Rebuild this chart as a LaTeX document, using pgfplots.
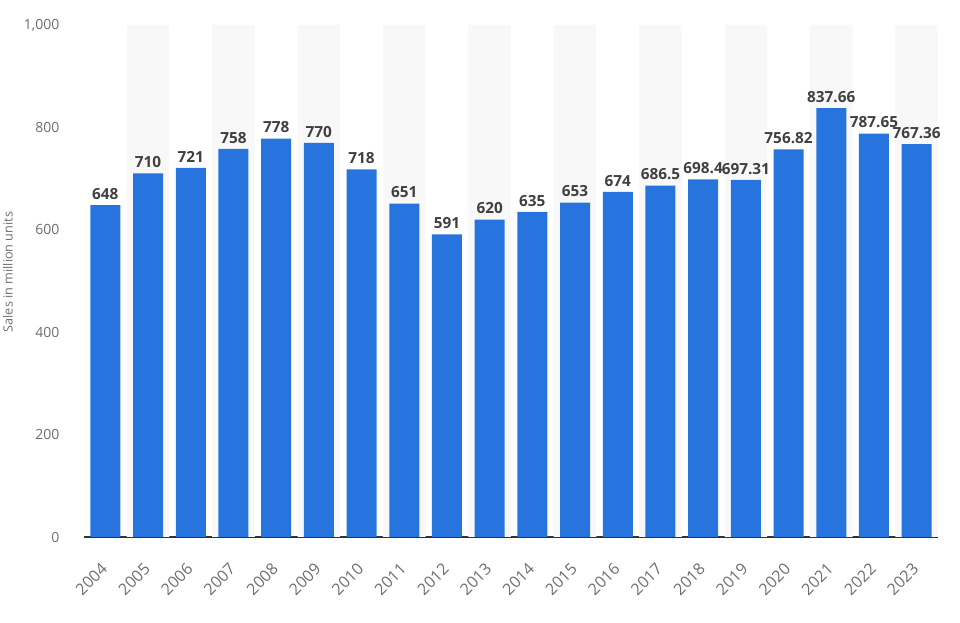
\documentclass[border=0pt]{standalone}
\usepackage{fontspec}
\setmainfont{Open Sans}
\usepackage{pgfplots}
\pgfplotsset{compat=1.18}
\definecolor{barblue}{RGB}{40,116,222}
\definecolor{band}{RGB}{248,248,248}
\definecolor{ticktxt}{RGB}{110,110,110}
\definecolor{valtxt}{RGB}{64,64,64}
\begin{document}
\begin{tikzpicture}[x=0.75pt,y=0.75pt]
\begin{axis}[
  at={(0,0)}, anchor=south west,
  scale only axis,
  width=640.5pt, height=384pt,
  xmin=-0.5, xmax=19.5,
  ymin=0, ymax=1000,
  axis x line*=bottom,
  axis y line=none,
  x axis line style={draw=black!80, line width=0.9pt},
  xtick={0,...,19},
  xticklabels={2004,2005,2006,2007,2008,2009,2010,2011,2012,2013,2014,2015,2016,2017,2018,2019,2020,2021,2022,2023},
  xtick style={draw=none},
  x tick label style={xshift=-3.9pt, yshift=-17pt, rotate=45, anchor=north east, font=\fontsize{12}{14}\selectfont, text=ticktxt, inner sep=1pt},
  ytick={0,200,400,600,800,1000},
  ymajorgrids,
  major grid style={densely dotted, draw=black!22, line width=0.6pt},
  /pgf/number format/assume math mode=true,
  /pgf/number format/1000 sep={,},
  every axis plot/.append style={bar shift=0pt},
  clip=false,
]
\addplot[ybar, bar width=32pt, fill=band, draw=none, forget plot] coordinates {
 (1,1000) (3,1000) (5,1000) (7,1000) (9,1000) (11,1000) (13,1000) (15,1000) (17,1000) (19,1000)};
\addplot[ybar, bar width=22.5pt, fill=barblue, draw=none,
  nodes near coords, point meta=explicit symbolic,
  every node near coord/.append style={font=\fontsize{11.5}{13}\selectfont\bfseries, text=valtxt, inner sep=2pt, yshift=2pt}]
  table[meta=lab] {
x y lab
0 648 648
1 710 710
2 721 721
3 758 758
4 778 778
5 770 770
6 718 718
7 651 651
8 591 591
9 620 620
10 635 635
11 653 653
12 674 674
13 686.5 686.5
14 698.4 698.4
15 697.31 697.31
16 756.82 756.82
17 837.66 837.66
18 787.65 787.65
19 767.36 767.36
};
\pgfplotsinvokeforeach{0,200,400,600,800,1000}{
  \node[anchor=east, font=\fontsize{10.5}{12}\selectfont, text=ticktxt] at (axis cs:-0.5,#1) [xshift=-15pt] {\pgfmathprintnumber[1000 sep={,}]{#1}};
}
\end{axis}
\node[rotate=90, font=\fontsize{9.5}{11}\selectfont, text=ticktxt] at (-76,265) {Sales in million units};
\pgfresetboundingbox
\path[use as bounding box] (-84,-86) rectangle (876,537);
\end{tikzpicture}
\end{document}
